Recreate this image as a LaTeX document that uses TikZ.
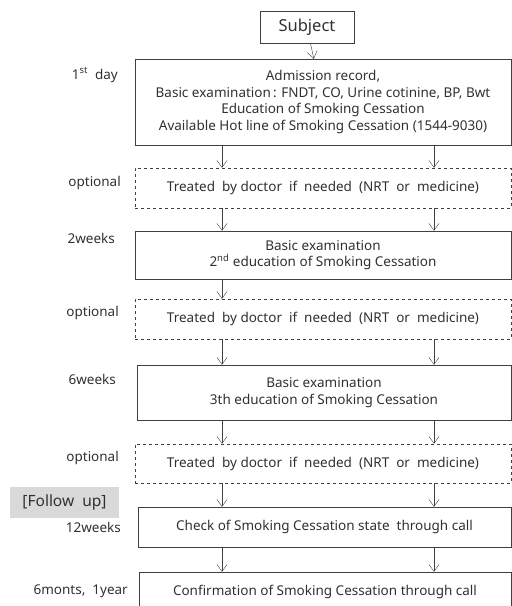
\documentclass[tikz,border=0pt]{standalone}
\usepackage{fontspec}
\setmainfont{Noto Sans}
\usetikzlibrary{arrows.meta}
\definecolor{linegray}{HTML}{404040}
\definecolor{textgray}{HTML}{303030}
\definecolor{tagfill}{HTML}{D9D9D9}
\tikzset{
  >={Straight Barb[length=7pt,width=10pt]},
  stepbox/.style={draw=linegray, text=textgray, align=center, minimum width=376pt, inner sep=0pt, font=\fontsize{13.5}{16.7}\selectfont},
  optbox/.style={stepbox, dashed},
  timelabel/.style={anchor=east, text=textgray, inner sep=0pt, font=\fontsize{13.5}{16}\selectfont}
}
\begin{document}
\begin{tikzpicture}[x=1pt,y=-1pt]
    \useasboundingbox (0,0) rectangle (512,606);
    \coordinate (colL) at (222,0);
    \coordinate (colR) at (434,0);
    % boxes
    \node[stepbox, minimum width=94pt, minimum height=32pt, font=\fontsize{16.5}{19}\selectfont] (subject) at (307,27) {Subject};
    \node[stepbox, minimum height=86pt] (day1) at (323,102) {Admission record,\\Basic examination\,: FNDT, CO, Urine cotinine, BP, Bwt\\Education of Smoking Cessation\\Available Hot line of Smoking Cessation (1544-9030)};
    \node[optbox, minimum height=40pt] (opt1) at (323,188) {Treated~ by doctor~ if~ needed~ (NRT~ or~ medicine)};
    \node[stepbox, minimum height=48pt] (week2) at (323,255) {Basic examination\\2\textsuperscript{nd} education of Smoking Cessation};
    \node[optbox, minimum height=40pt] (opt2) at (323,319) {Treated~ by doctor~ if~ needed~ (NRT~ or~ medicine)};
    \node[stepbox, minimum width=374pt, minimum height=55pt] (week6) at (324,392.5) {Basic examination\\3th education of Smoking Cessation};
    \node[optbox, minimum height=39pt] (opt3) at (323,463.5) {Treated~ by doctor~ if~ needed~ (NRT~ or~ medicine)};
    \node[stepbox, minimum width=373pt, minimum height=40pt] (week12) at (324.5,527) {Check of Smoking Cessation state~ through call};
    \node[stepbox, minimum width=372pt, minimum height=40pt] (year1) at (325,592) {Confirmation of Smoking Cessation through call};
    % arrows
    \draw[->, linegray] (subject) -- (day1);
    \draw[->, linegray] (day1.south -| colL) -- (opt1.north -| colL);
    \draw[->, linegray] (day1.south -| colR) -- (opt1.north -| colR);
    \draw[->, linegray] (opt1.south -| colL) -- (week2.north -| colL);
    \draw[->, linegray] (opt1.south -| colR) -- (week2.north -| colR);
    \draw[->, linegray] (week2.south -| colL) -- (opt2.north -| colL);
    \draw[->, linegray] (opt2.south -| colL) -- (week6.north -| colL);
    \draw[->, linegray] (opt2.south -| colR) -- (week6.north -| colR);
    \draw[->, linegray] (week6.south -| colL) -- (opt3.north -| colL);
    \draw[->, linegray] (week6.south -| colR) -- (opt3.north -| colR);
    \draw[->, linegray] (opt3.south -| colL) -- (week12.north -| colL);
    \draw[->, linegray] (opt3.south -| colR) -- (week12.north -| colR);
    \draw[->, linegray] (week12.south -| colL) -- (year1.north -| colL);
    \draw[->, linegray] (week12.south -| colR) -- (year1.north -| colR);
    % time labels
    \node[timelabel] (lday1) at (118,75) {1\textsuperscript{st}~ day};
    \node[timelabel] (lopt1) at (121,183) {optional};
    \node[timelabel] (lweek2) at (115,238) {2weeks};
    \node[timelabel] (lopt2) at (119,313) {optional};
    \node[timelabel] (lweek6) at (116,379) {6weeks};
    \node[timelabel] (lopt3) at (119,458) {optional};
    \node[fill=tagfill, text=textgray, minimum width=109pt, minimum height=31pt, inner sep=0pt, font=\fontsize{15.5}{18}\selectfont] (followup) at (64.5,502.5) {[Follow~ up]};
    \node[timelabel] (lweek12) at (121,527) {12weeks};
    \node[timelabel] (lyear1) at (128,591) {6monts,~ 1year};
\end{tikzpicture}
\end{document}
